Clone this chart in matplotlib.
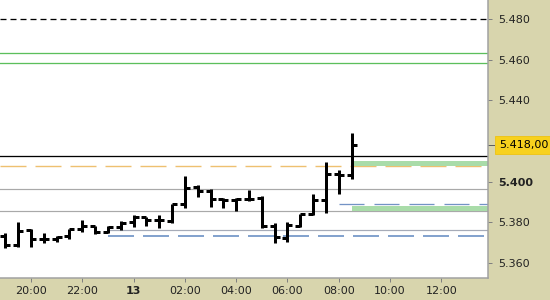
import matplotlib
matplotlib.use("Agg")
import matplotlib.pyplot as plt

# ---- data (OHLC, 30-minute bars) ----
times = ["12 19:00", "12 19:30", "12 20:00", "12 20:30", "12 21:00", "12 21:30",
         "12 22:00", "12 22:30", "12 23:00", "12 23:30", "13 00:00", "13 00:30",
         "13 01:00", "13 01:30", "13 02:00", "13 02:30", "13 03:00", "13 03:30",
         "13 04:00", "13 04:30", "13 05:00", "13 05:30", "13 06:00", "13 06:30",
         "13 07:00", "13 07:30", "13 08:00", "13 08:30"]
opens = [5.3732, 5.3688, 5.3762, 5.3718, 5.3718, 5.3732, 5.3767, 5.3782, 5.3752, 5.3777,
         5.3801, 5.3826, 5.3811, 5.3806, 5.3890, 5.3973, 5.3954, 5.3914, 5.3909, 5.3914,
         5.3919, 5.3782, 5.3723, 5.3782, 5.3841, 5.3909, 5.4037, 5.4032]
highs = [5.3747, 5.3801, 5.3767, 5.3747, 5.3732, 5.3767, 5.3811, 5.3782, 5.3782, 5.3806,
         5.3836, 5.3826, 5.3836, 5.3890, 5.4028, 5.3983, 5.3963, 5.3919, 5.3919, 5.3959,
         5.3929, 5.3796, 5.3801, 5.3841, 5.3939, 5.4096, 5.4057, 5.4239]
lows = [5.3673, 5.3678, 5.3678, 5.3698, 5.3703, 5.3718, 5.3752, 5.3742, 5.3747, 5.3762,
        5.3777, 5.3782, 5.3772, 5.3796, 5.3870, 5.3924, 5.3875, 5.3870, 5.3855, 5.3904,
        5.3772, 5.3698, 5.3703, 5.3777, 5.3836, 5.3845, 5.3939, 5.4013]
closes = [5.3688, 5.3757, 5.3718, 5.3718, 5.3727, 5.3767, 5.3782, 5.3752, 5.3777, 5.3796,
          5.3826, 5.3811, 5.3811, 5.3890, 5.3968, 5.3954, 5.3914, 5.3909, 5.3914, 5.3914,
          5.3782, 5.3727, 5.3786, 5.3841, 5.3909, 5.4037, 5.4032, 5.4180]

last_price_label = "5.418,00"

# reference levels
black_dashed_level = 5.480
green_levels = [5.4633, 5.4584]
black_level = 5.4126
orange_level = 5.4077
grey_levels = [5.3963, 5.3855]
grey_level_late = 5.3762
grey_level_late_start = "12 23:00"
blue_dashed_level = 5.3732
blue_dashed_start = "12 23:00"
blue_short_level = 5.3890
blue_short_start = "13 08:00"
green_bands = [(5.4077, 5.4103), (5.3855, 5.3880)]
green_band_start = "13 08:30"

y_ticks = [5.360, 5.380, 5.400, 5.440, 5.460, 5.480]
y_tick_labels = ["5.360", "5.380", "5.400", "5.440", "5.460", "5.480"]
x_tick_times = ["12 20:00", "12 22:00", "13 00:00", "13 02:00", "13 04:00",
                "13 06:00", "13 08:00", "13 10:00", "13 12:00"]
x_tick_labels = ["20:00", "22:00", "13", "02:00", "04:00", "06:00", "08:00", "10:00", "12:00"]


def to_h(s):
    d, hm = s.split()
    h, m = hm.split(":")
    return (int(d) - 12) * 24 + int(h) + int(m) / 60 - 20


BEIGE = "#d8d5ad"
plt.rcParams["font.family"] = ["DejaVu Sans"]
plt.rcParams["lines.scale_dashes"] = False

fig = plt.figure(figsize=(5.5, 3.0), dpi=100, facecolor=BEIGE)
ax = fig.add_axes([0, 22 / 300, 488 / 550, 278 / 300])
ax.set_facecolor("white")

XMIN, XMAX = -1.2086, 17.817
ax.set_xlim(XMIN, XMAX)
ax.set_ylim(5.3525, 5.4894)

px = 0.72  # one pixel in points

# horizontal levels
ax.axhline(black_dashed_level, color="black", lw=1.3 * px, ls=(0, (6 * px, 4 * px)), zorder=2)
for g in green_levels:
    ax.axhline(g, color="#5cbf5c", lw=1.3 * px, zorder=2)
ax.axhline(black_level, color="black", lw=px * 1.3, zorder=2)
ax.axhline(orange_level, color="#eec070", lw=px * 1.4, ls=(0, (26 * px, 9 * px)), zorder=2)
for g in grey_levels:
    ax.axhline(g, color="#a9a9a9", lw=px * 1.2, zorder=2)
ax.hlines(grey_level_late, to_h(grey_level_late_start), XMAX, color="#a6abb8",
          lw=px * 1.2, zorder=2)
ax.hlines(blue_dashed_level, to_h(blue_dashed_start), XMAX, color="#6f94c6",
          lw=px * 1.7, linestyles=[(0, (26 * px, 9 * px))], zorder=2)
ax.hlines(blue_short_level, to_h(blue_short_start), XMAX, color="#7393c5",
          lw=px * 1.3, linestyles=[(0, (25 * px, 10 * px))], zorder=2)
for lo, hi in green_bands:
    ax.fill_between([to_h(green_band_start), XMAX], lo, hi, color="#a9dca9",
                    lw=0, zorder=2.5)

# OHLC bars
xs = [to_h(t) for t in times]
tick_w = 5 / 25.65
ax.vlines(xs, lows, highs, color="black", lw=3 * px, zorder=4)
ax.hlines(opens, [x - tick_w for x in xs], xs, color="black", lw=3 * px, zorder=4)
ax.hlines(closes, xs, [x + tick_w for x in xs], color="black", lw=3 * px, zorder=4)

# spines
for s in ["top", "left"]:
    ax.spines[s].set_visible(False)
for s in ["right", "bottom"]:
    ax.spines[s].set_color("#a0a0a0")
    ax.spines[s].set_linewidth(1.5 * px)

# y axis on right
ax.yaxis.tick_right()
ax.set_yticks(y_ticks)
ax.set_yticklabels(y_tick_labels, fontsize=8, color="#222222")
ax.tick_params(axis="y", length=3, width=px, color="#808080", pad=4)
for lab in ax.get_yticklabels():
    if lab.get_text() == "5.400":
        lab.set_fontweight("bold")

# x axis
ax.set_xticks([to_h(t) for t in x_tick_times])
ax.set_xticklabels(x_tick_labels, fontsize=8, color="#222222")
ax.tick_params(axis="x", length=3, width=px, color="#808080", pad=3)
for lab in ax.get_xticklabels():
    if lab.get_text() == "13":
        lab.set_fontweight("bold")

# last price label
ax.annotate(last_price_label, xy=(1.0, closes[-1]), xycoords=("axes fraction", "data"),
            xytext=(8, 0), textcoords="offset points", ha="left", va="center",
            fontsize=8, color="black", annotation_clip=False, zorder=10,
            bbox=dict(boxstyle="square,pad=0.35", facecolor="#f7d11e", edgecolor="#f0c000",
                      lw=0.5))
ax.plot([1.0, 1.012], [closes[-1], closes[-1]], transform=ax.get_yaxis_transform(),
        color="#606060", lw=px, clip_on=False)

fig.savefig("out.png", dpi=100, facecolor=BEIGE)
